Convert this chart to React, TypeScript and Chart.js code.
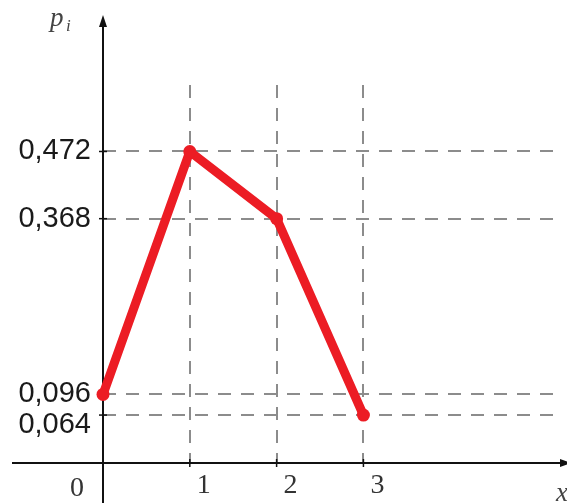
import React, { useEffect, useRef } from "react";
import { Chart, registerables } from "chart.js";

Chart.register(...registerables);

// ---- data ----
const xValues = [0, 1, 2, 3];
const probabilities = [0.096, 0.472, 0.368, 0.064];
const yTickValues = [0.064, 0.096, 0.368, 0.472];
const yTickLabels = ["0,064", "0,096", "0,368", "0,472"];
const xTickValues = [1, 2, 3];
const xTickLabels = ["1", "2", "3"];
const originLabel = "0";
const yAxisTitle = "p";
const yAxisSubscript = "i";
const xAxisTitle = "x";

// ---- styles ----
const RED = "rgb(236,28,36)";
const GRID = "rgb(140,140,140)";
const AXIS = "#111";
const Y_MIN = -0.0102;
const Y_MAX = 0.5749;
const X_MIN = 0;
const X_MAX = 5.207;

const axesPlugin = {
  id: "axesPlugin",
  beforeDatasetsDraw(chart: any) {
    const { ctx, chartArea, scales } = chart;
    const xs = scales.x;
    const ys = scales.y;
    const ox = xs.getPixelForValue(0);
    const oy = chartArea.bottom;
    ctx.save();
    ctx.strokeStyle = AXIS;
    ctx.fillStyle = AXIS;
    ctx.lineWidth = 2;
    // x axis
    ctx.beginPath();
    ctx.moveTo(12, oy);
    ctx.lineTo(chart.width, oy);
    ctx.stroke();
    ctx.beginPath();
    ctx.moveTo(chart.width + 4, oy);
    ctx.lineTo(chart.width - 7, oy - 4);
    ctx.lineTo(chart.width - 7, oy + 4);
    ctx.closePath();
    ctx.fill();
    // y axis
    ctx.beginPath();
    ctx.moveTo(ox, chart.height);
    ctx.lineTo(ox, 20);
    ctx.stroke();
    ctx.beginPath();
    ctx.moveTo(ox, 15);
    ctx.lineTo(ox - 4, 27);
    ctx.lineTo(ox + 4, 27);
    ctx.closePath();
    ctx.fill();
    // tick marks
    ctx.lineWidth = 1.5;
    xTickValues.forEach((v) => {
      const px = xs.getPixelForValue(v);
      ctx.beginPath();
      ctx.moveTo(px, oy - 4);
      ctx.lineTo(px, oy + 4);
      ctx.stroke();
    });
    yTickValues.forEach((v) => {
      const py = ys.getPixelForValue(v);
      ctx.beginPath();
      ctx.moveTo(ox - 4, py);
      ctx.lineTo(ox + 4, py);
      ctx.stroke();
    });
    ctx.restore();
  },
  afterDraw(chart: any) {
    const { ctx, chartArea, scales } = chart;
    const ox = scales.x.getPixelForValue(0);
    const oy = chartArea.bottom;
    ctx.save();
    ctx.fillStyle = "#333";
    ctx.textBaseline = "middle";
    ctx.textAlign = "center";
    ctx.font = "28px 'Liberation Serif', serif";
    ctx.fillText(originLabel, ox - 26, oy + 26);
    ctx.textAlign = "left";
    ctx.textBaseline = "alphabetic";
    ctx.fillStyle = "#444";
    ctx.font = "italic 27px 'Liberation Serif', serif";
    ctx.fillText(yAxisTitle, 50, 26);
    ctx.font = "italic 17px 'Liberation Serif', serif";
    ctx.fillText(yAxisSubscript, 66, 31);
    ctx.font = "italic 27px 'Liberation Serif', serif";
    ctx.fillText(xAxisTitle, 556, 501);
    ctx.restore();
  },
};

export default function App() {
  const ref = useRef<HTMLCanvasElement>(null);
  useEffect(() => {
    document.body.style.margin = "0";
    const canvas = ref.current!;
    const chart = new Chart(canvas, {
      type: "line",
      data: {
        datasets: [
          {
            data: xValues.map((x, i) => ({ x, y: probabilities[i] })),
            borderColor: RED,
            backgroundColor: RED,
            borderWidth: 9,
            pointRadius: 6.5,
            pointBackgroundColor: RED,
            pointBorderWidth: 0,
            borderJoinStyle: "round",
            borderCapStyle: "round",
            tension: 0,
            clip: false,
          } as any,
        ],
      },
      options: {
        animation: false,
        responsive: false,
        devicePixelRatio: 1,
        layout: { padding: { top: 85, right: 12, left: 0, bottom: 0 } },
        plugins: { legend: { display: false }, tooltip: { enabled: false } },
        scales: {
          x: {
            type: "linear",
            min: X_MIN,
            max: X_MAX,
            afterBuildTicks: (s: any) => {
              s.ticks = xTickValues.map((v) => ({ value: v }));
            },
            afterFit: (s: any) => {
              s.height = 40;
            },
            grid: { color: GRID, lineWidth: 2, drawTicks: false },
            border: { display: false, dash: [13, 10] },
            ticks: {
              labelOffset: 14,
              padding: 6,
              color: "#333",
              font: { family: "'Liberation Serif', serif", size: 28 },
              callback: (v: any) => xTickLabels[xTickValues.indexOf(Number(v))],
            },
          },
          y: {
            type: "linear",
            min: Y_MIN,
            max: Y_MAX,
            afterBuildTicks: (s: any) => {
              s.ticks = yTickValues.map((v) => ({ value: v }));
            },
            afterFit: (s: any) => {
              s.width = 103;
            },
            grid: { color: GRID, lineWidth: 2, drawTicks: false },
            border: { display: false, dash: [13, 10] },
            ticks: {
              padding: 12,
              color: "#1a1a1a",
              font: { family: "'Liberation Sans', Arial, sans-serif", size: 29, lineHeight: 0.69 },
              callback: (v: any) => {
                const i = yTickValues.indexOf(Number(v));
                const lab = yTickLabels[i];
                return i === 0 ? ["", lab] : lab;
              },
            },
          },
        },
      },
      plugins: [axesPlugin],
    });
    return () => chart.destroy();
  }, []);
  return (
    <div style={{ width: 567, height: 503 }}>
      <canvas ref={ref} width={567} height={503} style={{ display: "block" }} />
    </div>
  );
}
